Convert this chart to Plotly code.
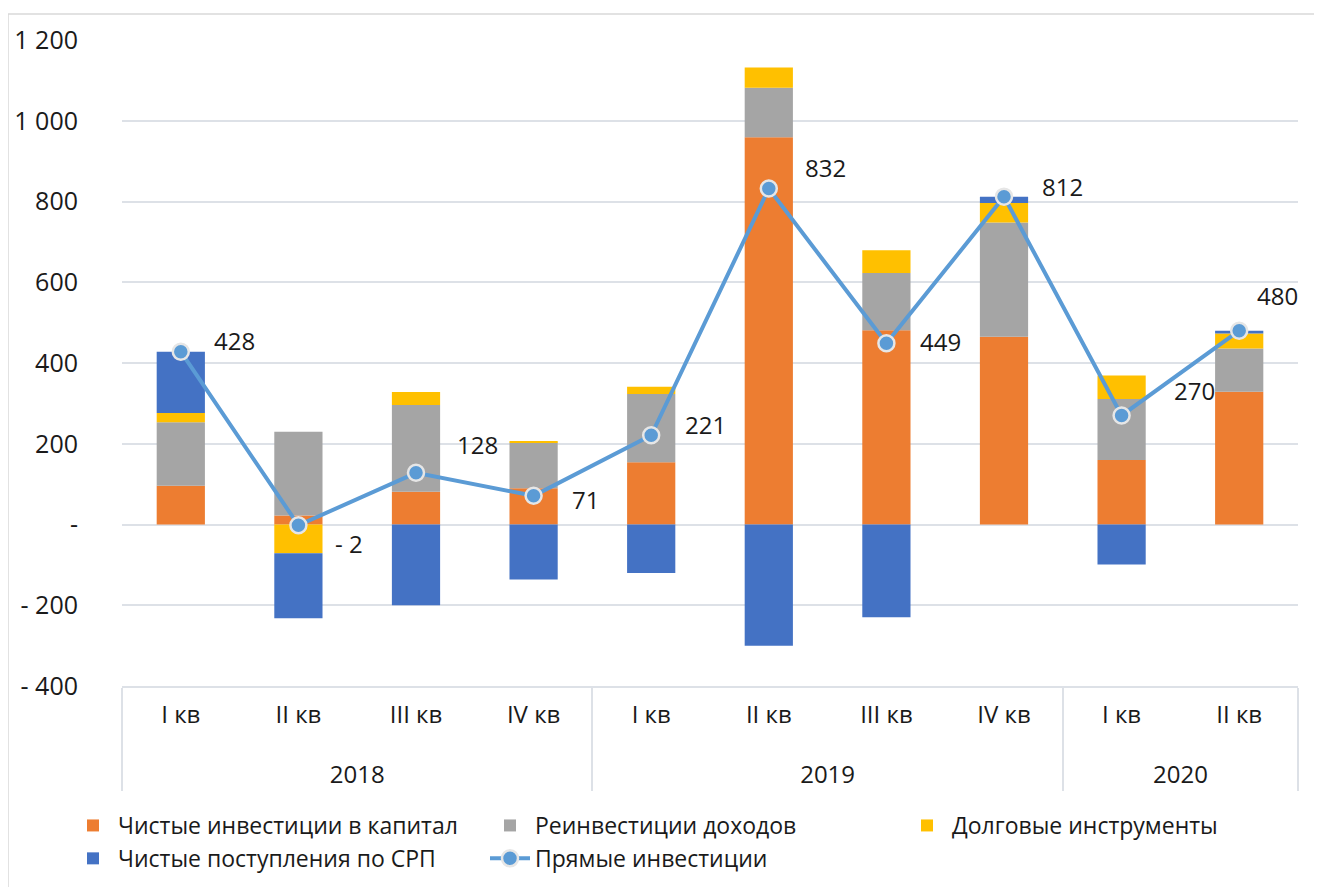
import plotly.graph_objects as go

years = ["2018", "2018", "2018", "2018", "2019", "2019", "2019", "2019", "2020", "2020"]
quarters = ["I кв", "II кв", "III кв", "IV кв", "I кв", "II кв", "III кв", "IV кв", "I кв", "II кв"]

equity = [96, 22, 81, 90, 154, 959, 481, 465, 160, 329]
reinvest = [157, 208, 215, 113, 169, 123, 142, 283, 151, 107]
debt = [23, -71, 32, 4, 18, 50, 56, 48, 58, 37]
psa = [152, -161, -200, -136, -120, -300, -230, 16, -99, 7]
direct = [428, -2, 128, 71, 221, 832, 449, 812, 270, 480]

names = ["Чистые инвестиции в капитал", "Реинвестиции доходов", "Долговые инструменты",
         "Чистые поступления по СРП", "Прямые инвестиции"]

ytickvals = [-400, -200, 0, 200, 400, 600, 800, 1000, 1200]
yticktext = ["- 400", "- 200", "-", "200", "400", "600", "800", "1 000", "1 200"]

# label offsets (px) for data labels, styling only
lab_dx = [54, 51, 61, 52, 54, 57, 54, 58, 73, 38]
lab_dy = [-11, 18, -28, 4, -11, -21, -2, -10, -25, -35]

FONT = "Open Sans"
# the year level gets a leading line break so it sits lower, as in the reference
x = [["<br>" + y for y in years], quarters]

# page has an 8px body margin; figure coordinates are shifted accordingly
PL, PT = 114, 32          # plot left / top in figure px
PW, PH = 1176, 646        # plot width / height

fig = go.Figure()
colors = ["#ED7D31", "#A5A5A5", "#FFC000", "#4472C4"]
for vals, nm, c in zip([equity, reinvest, debt, psa], names[:4], colors):
    fig.add_trace(go.Bar(x=x, y=vals, name=nm, marker=dict(color=c, line=dict(width=0))))

fig.add_trace(go.Scatter(
    x=x, y=direct, name=names[4], mode="lines+markers",
    line=dict(color="#5B9BD5", width=4),
    marker=dict(size=16, color="#5B9BD5", line=dict(color="#E6E6E6", width=2.5)),
))

for i, v in enumerate(direct):
    txt = f"- {abs(v)}" if v < 0 else str(v)
    fig.add_annotation(x=i, y=v, text=txt, showarrow=False, xshift=lab_dx[i], yshift=-lab_dy[i],
                       font=dict(family=FONT, size=24, color="#1a1a1a"))

fig.add_shape(type="rect", xref="paper", yref="paper",
              x0=(0 - PL) / PW, x1=1.3, y0=-0.6, y1=(PH + PT - 6) / PH,
              line=dict(color="#D9D9D9", width=1.5), fillcolor="rgba(0,0,0,0)", layer="below")

fig.update_layout(
    width=1322, height=887,
    margin=dict(l=PL, r=1322 - PL - PW, t=PT, b=887 - PT - PH),
    paper_bgcolor="white", plot_bgcolor="white",
    barmode="relative", bargap=0.59,
    font=dict(family=FONT, size=22, color="#1a1a1a"),
    showlegend=True,
    legend=dict(orientation="h", x=-54 / PW, xanchor="left", y=-118 / PH, yanchor="top",
                entrywidth=362, entrywidthmode="pixels", traceorder="normal",
                font=dict(family=FONT, size=23, color="#1a1a1a"), tracegroupgap=0, itemwidth=40),
)
fig.update_yaxes(range=[-400, 1200], tickvals=ytickvals, ticktext=yticktext, automargin=False,
                 showgrid=True, gridcolor="#DDE1E7", gridwidth=1.5,
                 zeroline=True, zerolinecolor="#DDE1E7", zerolinewidth=1.5,
                 ticks="outside", ticklen=38, tickcolor="rgba(0,0,0,0)",
                 tickfont=dict(family=FONT, size=25, color="#1a1a1a"), showline=False)
fig.update_xaxes(type="multicategory", range=[-0.5, 9.5], showline=True, linecolor="#DDE1E7", linewidth=1.5,
                 automargin=False, ticks="outside", ticklen=28, tickcolor="rgba(0,0,0,0)",
                 ticklabelstandoff=6,
                 showdividers=True, dividercolor="#DDE1E7", dividerwidth=1.5,
                 tickfont=dict(family=FONT, size=24, color="#1a1a1a"), showgrid=False)

fig.write_html("out.html")
